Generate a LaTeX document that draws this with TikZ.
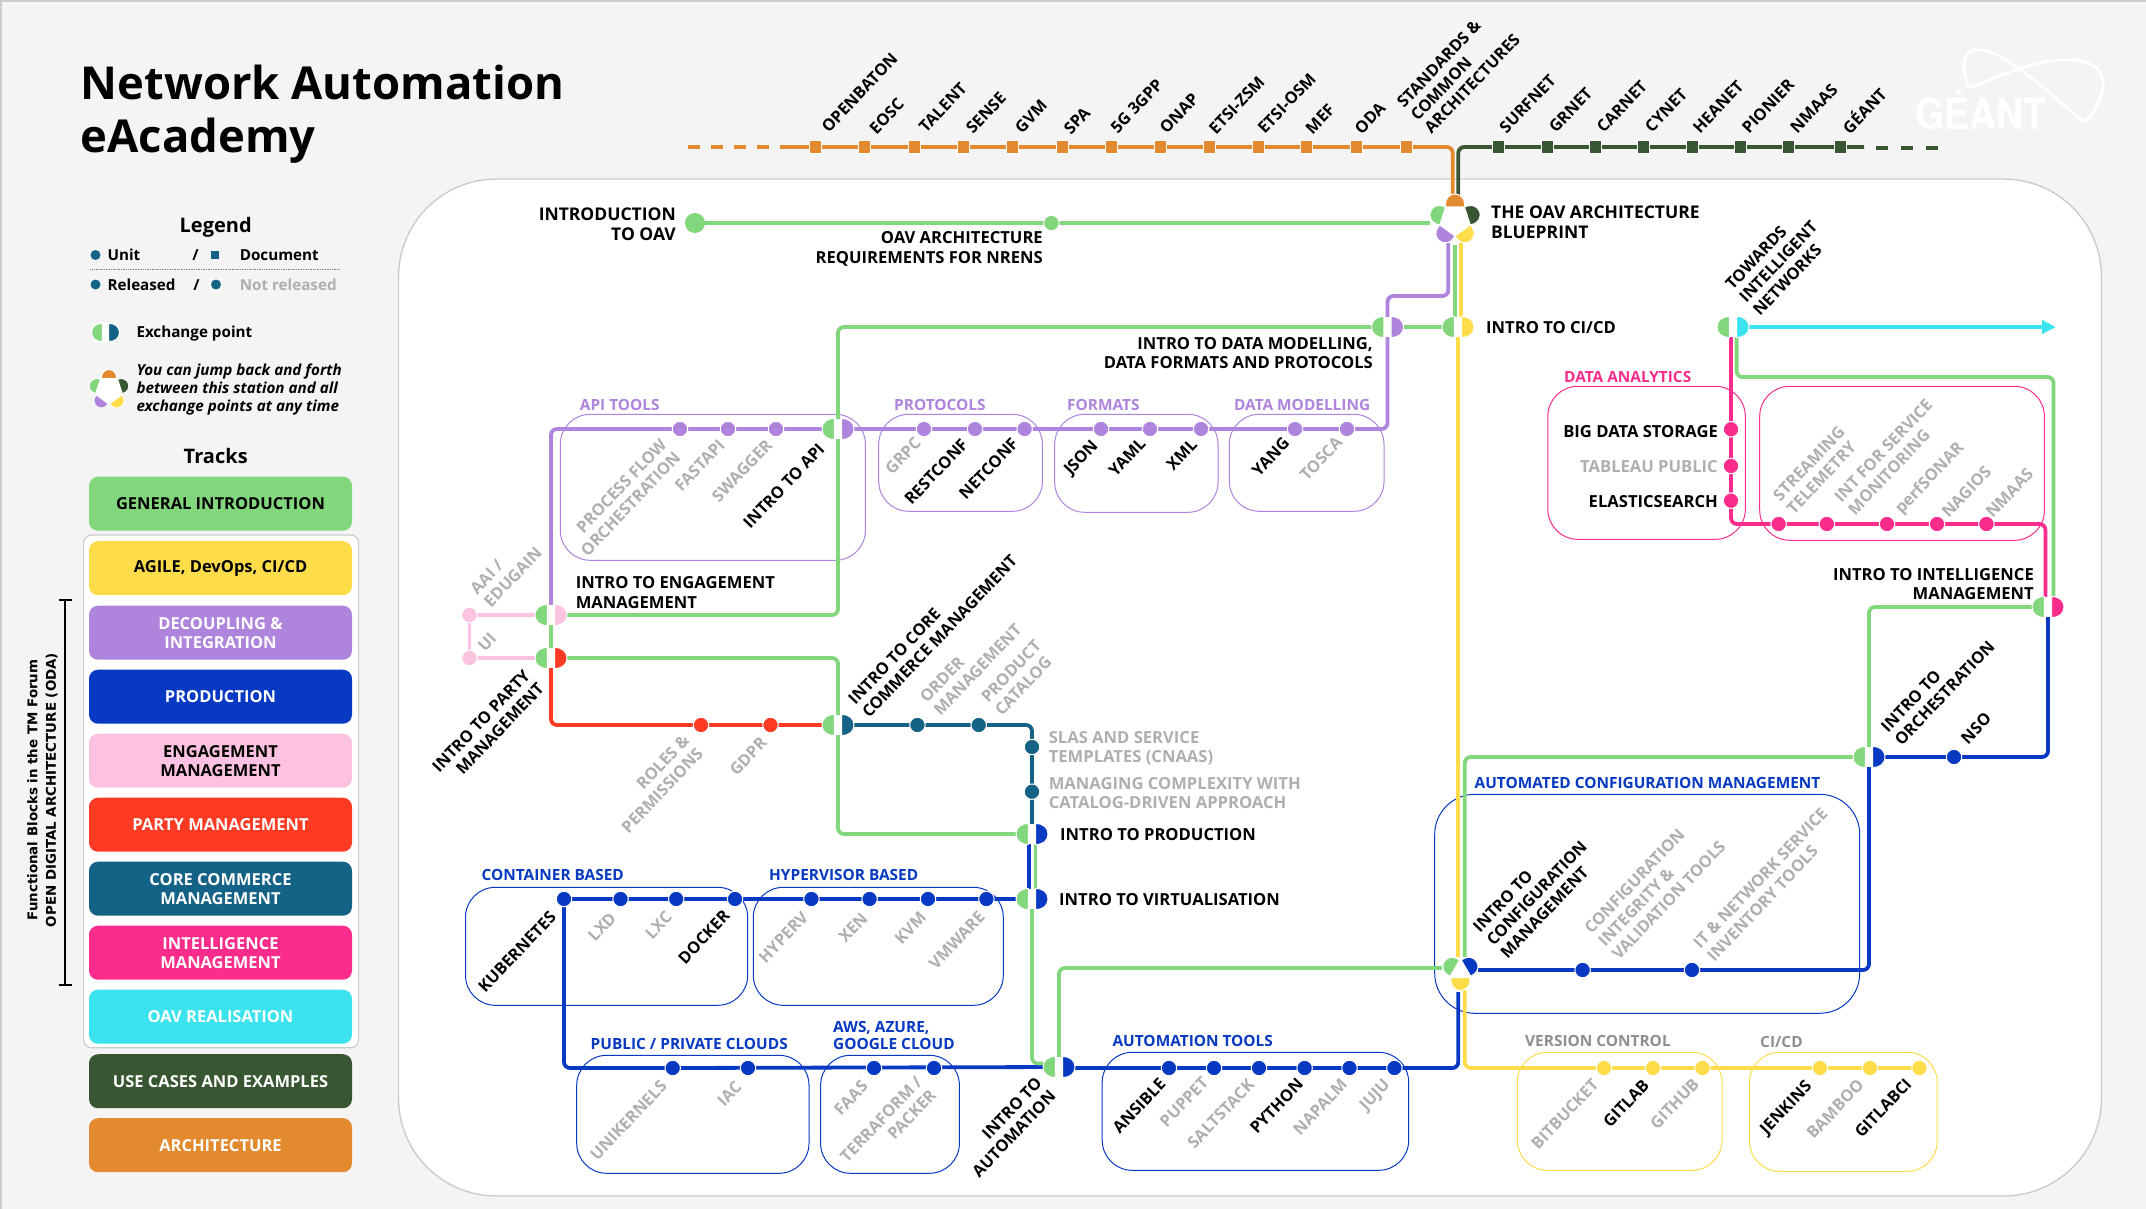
\documentclass[tikz,border=0pt]{standalone}
\usepackage{fontspec}
\setmainfont{Open Sans}
\newfontfamily\djfont{DejaVu Sans}
\newfontfamily\logofont{TeX Gyre Heros}
\usetikzlibrary{arrows.meta,shapes.geometric}
\definecolor{cgreen}{HTML}{82D67C}
\definecolor{cyellow}{HTML}{FFDD4A}
\definecolor{cpurple}{HTML}{AF84DD}
\definecolor{cblue}{HTML}{0739C2}
\definecolor{cpink}{HTML}{FCC2E0}
\definecolor{cred}{HTML}{FD3A23}
\definecolor{cteal}{HTML}{156287}
\definecolor{cmag}{HTML}{FB2C8B}
\definecolor{ccyan}{HTML}{3AE3EE}
\definecolor{cdark}{HTML}{395632}
\definecolor{corange}{HTML}{E38A2F}
\definecolor{cgrey}{HTML}{B0AEAE}
\definecolor{cgrey2}{HTML}{8F8F8F}
\definecolor{cpage}{HTML}{F4F4F4}
\newcommand{\labfont}{\fontsize{16.3}{19}\selectfont\bfseries}
\newcommand{\hzfont}{\fontsize{16.6}{19.4}\selectfont\bfseries}
\newcommand{\hzbfont}{\fontsize{17.5}{20}\selectfont\bfseries}
\newcommand{\grpfont}{\fontsize{15.4}{17.5}\selectfont\bfseries}
\newcommand{\tbfont}{\fontsize{16.5}{19}\selectfont\bfseries}
\newcommand{\legfont}{\fontsize{15.2}{17.6}\selectfont\bfseries}
\pgfdeclarelayer{bgl}\pgfdeclarelayer{tracks}
\pgfsetlayers{bgl,tracks,main}
\tikzset{
  lb/.style={inner sep=0pt,font=\labfont,text=black},
  gy/.style={lb,text=cgrey},
  hz/.style={lb,font=\hzfont,yshift=-1pt},
  hzb/.style={lb,font=\hzbfont,yshift=-1pt},
  gl/.style={lb,font=\grpfont,yshift=-.5pt},
  rot/.style={rotate=46.5},
  aw/.style={anchor=west,align=left},
  ae/.style={anchor=east,align=right},
  grp/.style={rounded corners=30pt,line width=1pt},
  track/.style={line width=3.8pt,rounded corners=6pt},
  stopdot/.style={circle,minimum size=15.5pt,inner sep=0pt,draw=white,line width=1pt},
  sqdot/.style={rectangle,minimum width=12pt,minimum height=13pt,inner sep=0pt,draw=white,line width=.8pt},
  xpbase/.style={ellipse,minimum width=30pt,minimum height=20pt,inner sep=0pt,fill=white},
  hubbase/.style={circle,fill=white,inner sep=0pt},
  tb/.style={rectangle,rounded corners=9pt,minimum width=263pt,minimum height=54pt,inner sep=0pt,align=center,font=\tbfont,yshift=-.7pt},
}
\newcommand{\Lb}[4]{\node[#1] (#2) at (#3) {#4};}
\newcommand{\St}[3]{\node[stopdot,fill=#3] (#1) at (#2) {};}
\newcommand{\Sq}[3]{\node[sqdot,fill=#3] (#1) at (#2) {};}
\newcommand{\Xp}[4][1]{\node[xpbase] (#2) at (#3) {};
  \begin{scope}[shift={(#2.center)},scale=#1]
  \path[fill=cgreen,draw=white,line width=1pt] (-3.7,-10.5) .. controls (-11,-10.5) and (-16,-6.5) .. (-16,0) .. controls (-16,6.5) and (-11,10.5) .. (-3.7,10.5) -- cycle;
  \path[fill=#4,draw=white,line width=1pt] (3.7,-10.5) .. controls (11,-10.5) and (16,-6.5) .. (16,0) .. controls (16,6.5) and (11,10.5) .. (3.7,10.5) -- cycle;
  \end{scope}}
\newcommand{\Hp}[6]{% centre, angle, flat distance, half width, height, colour
  \begin{scope}[shift={(#1.center)},rotate=#2]
  \path[fill=#6,draw=white,line width=1pt] (-#4,-#3) -- (-#4,-#3-#5+#4) .. controls (-#4,-#3-#5+#4*.45) and (-#4*.55,-#3-#5) .. (0,-#3-#5) .. controls (#4*.55,-#3-#5) and (#4,-#3-#5+#4*.45) .. (#4,-#3-#5+#4) -- (#4,-#3) -- cycle;
  \end{scope}}
\newcommand{\Tb}[5]{\node[tb,fill=#3,text=#4] (#1) at (220.5,#2) {#5};}
\begin{document}
\begin{tikzpicture}[x=1pt,y=-1pt]
\useasboundingbox (0,0) rectangle (2146,1209);
\begin{pgfonlayer}{bgl}
\fill[cpage] (0,0) rectangle (2146,1209);
\draw[gray!40,line width=1.5pt] (1,1209) -- (1,1) -- (2146,1);
\path[fill=white,draw=black!20,line width=1.4pt,rounded corners=98pt] (398.5,179) rectangle (2101.5,1196);
% group frame in legend
\path[fill=white,draw=black!20,line width=1.2pt,rounded corners=8pt] (83.6,535) rectangle (358.6,1047.8);
% group boxes
\draw[grp,cpurple] (560.3,414.3) rectangle (865.4,560.3);
\draw[grp,cpurple] (878.7,414.3) rectangle (1042.4,511.3);
\draw[grp,cpurple] (1054.7,414.3) rectangle (1218,512.3);
\draw[grp,cpurple] (1229.3,414.3) rectangle (1384,511.3);
\draw[grp,cmag] (1547.8,386.3) rectangle (1745.3,539.3);
\draw[grp,cmag] (1759.7,386.3) rectangle (2044.4,540.3);
\draw[grp,cblue] (465.5,887.3) rectangle (747.7,1005.3);
\draw[grp,cblue] (753.3,887.3) rectangle (1003.3,1005.3);
\draw[grp,cblue] (576.7,1055.3) rectangle (809,1173.3);
\draw[grp,cblue] (820.6,1055.3) rectangle (959.4,1173.3);
\draw[grp,cblue] (1102.2,1052.3) rectangle (1408.7,1170.3);
\draw[grp,cblue,rounded corners=40pt] (1434.7,794.3) rectangle (1859.7,1013.3);
\draw[grp,cyellow] (1517.3,1052.3) rectangle (1722,1170.3);
\draw[grp,cyellow] (1749.5,1052.3) rectangle (1937.2,1171.3);
\end{pgfonlayer}

% Title
\node[inner sep=0pt,anchor=base west,font=\fontsize{45.4}{53}\selectfont\bfseries] (title1) at (80.5,99.5) {Network Automation};
\node[inner sep=0pt,anchor=base west,font=\fontsize{45.4}{53}\selectfont\bfseries] (title2) at (80.5,152.5) {eAcademy};

% Legend
\node[inner sep=0pt,font=\fontsize{20}{24}\selectfont\bfseries] (legendT) at (215.7,227) {Legend};
\node[inner sep=0pt,font=\fontsize{20}{24}\selectfont\bfseries] (tracksT) at (215.7,455.5) {Tracks};
\node[circle,fill=cteal,minimum size=10pt,inner sep=0pt] (lgUnit) at (95.5,255) {};
\node[inner sep=0pt,anchor=west,font=\legfont] (lgUnitT) at (107.4,255) {Unit};
\node[inner sep=0pt,font=\legfont] (lgS1) at (195.5,255) {/};
\node[rectangle,fill=cteal,minimum size=8.5pt,inner sep=0pt] (lgDoc) at (215,255) {};
\node[inner sep=0pt,anchor=west,font=\legfont] (lgDocT) at (239.6,255) {Document};
\coordinate (lgDa) at (90.4,269); \coordinate (lgDb) at (339.7,269);
\draw[black!50,line width=.7pt,densely dotted] (lgDa) -- (lgDb);
\node[circle,fill=cteal,minimum size=10pt,inner sep=0pt] (lgRel) at (95.5,284.5) {};
\node[inner sep=0pt,anchor=west,font=\legfont] (lgRelT) at (107.4,285) {Released};
\node[inner sep=0pt,font=\legfont] (lgS2) at (196.5,285) {/};
\node[circle,fill=cteal,minimum size=10pt,inner sep=0pt] (lgNot) at (216,284.5) {};
\node[inner sep=0pt,anchor=west,font=\legfont,text=cgrey] (lgNotT) at (239.6,285) {Not released};
\Xp[.87]{lgXp}{105.5,332.5}{cteal}
\node[inner sep=0pt,anchor=west,font=\legfont] (lgXpT) at (136.3,334) {Exchange point};
\node[hubbase,minimum size=24pt] (lgHub) at (109,390) {};
\Hp{lgHub}{0}{11.5}{7.5}{9}{corange}
\Hp{lgHub}{72}{11.5}{7.5}{9}{cgreen}
\Hp{lgHub}{144}{11.5}{7.5}{9}{cpurple}
\Hp{lgHub}{-144}{11.5}{7.5}{9}{cyellow}
\Hp{lgHub}{-72}{11.5}{7.5}{9}{cdark}
\node[inner sep=0pt,anchor=west,align=left,font=\legfont\itshape] (lgHubT) at (136.3,389.5) {You can jump back and forth\\between this station and all\\exchange points at any time};

% Tracks legend
\Tb{tGen}{503}{cgreen}{black}{GENERAL INTRODUCTION}
\Tb{tAgi}{567.5}{cyellow}{black}{AGILE, DevOps, CI/CD}
\Tb{tDec}{632}{cpurple}{white}{DECOUPLING \&\\INTEGRATION}
\Tb{tPro}{696}{cblue}{white}{PRODUCTION}
\Tb{tEng}{760}{cpink}{black}{ENGAGEMENT\\MANAGEMENT}
\Tb{tPar}{824}{cred}{white}{PARTY MANAGEMENT}
\Tb{tCor}{888}{cteal}{white}{CORE COMMERCE\\MANAGEMENT}
\Tb{tInt}{952}{cmag}{white}{INTELLIGENCE\\MANAGEMENT}
\Tb{tOav}{1016}{ccyan}{white}{OAV REALISATION}
\Tb{tUse}{1080.5}{cdark}{white}{USE CASES AND EXAMPLES}
\Tb{tArc}{1144.5}{corange}{white}{ARCHITECTURE}

% Bracket
\coordinate (brA) at (65,600); \coordinate (brB) at (65,984.5);
\draw[black,line width=2pt] (brA) -- (brB);
\draw[black,line width=2pt] ([xshift=-6.5pt]brA) -- ([xshift=6.5pt]brA);
\draw[black,line width=2pt] ([xshift=-6.5pt]brB) -- ([xshift=6.5pt]brB);
\node[inner sep=0pt,rotate=90,align=center,font=\djfont\fontsize{13.4}{18.5}\selectfont\bfseries] (brT) at (42.5,790) {Functional Blocks in the TM Forum\\OPEN DIGITAL ARCHITECTURE (ODA)};

% Logo
\node[inner sep=0pt,text=white,anchor=base west,font=\logofont\fontsize{43}{45}\selectfont\bfseries] (logoT) at (1915,129.3) {\scalebox{.87}[1]{GÉANT}};
\coordinate (lgoA) at (1969,88);
\draw[white,line width=2.6pt,line join=round] (lgoA) .. controls (1962,70) and (1960,50) .. (1978,49.5) .. controls (1995,49) and (2025,72) .. (2050,93) .. controls (2062,104) and (2075,115) .. (2083,121) .. controls (2090,122) and (2104,95) .. (2103,83) .. controls (2102,62) and (2080,59) .. (2060,60) .. controls (2030,62) and (2000,76) .. (lgoA);

% Hubs and exchange points
\node[hubbase,minimum size=26pt] (hubOav) at (1455,220) {};
\Hp{hubOav}{0}{13}{9.5}{13}{corange}
\Hp{hubOav}{72}{13}{9.5}{13}{cgreen}
\Hp{hubOav}{144}{13}{9.5}{13}{cpurple}
\Hp{hubOav}{-144}{13}{9.5}{13}{cyellow}
\Hp{hubOav}{-72}{13}{9.5}{13}{cdark}
\node[hubbase,minimum size=14pt] (hubCfg) at (1460.4,971.3) {};
\Hp{hubCfg}{60}{6.4}{9.3}{12.5}{cgreen}
\Hp{hubCfg}{-60}{6.4}{9.3}{12.5}{cblue}
\Hp{hubCfg}{180}{6.4}{9.5}{12.8}{cyellow}
\Xp{xpData}{1387.5,327}{cpurple}
\Xp{xpCi}{1458,327}{cyellow}
\Xp{xpApi}{838,429}{cpurple}
\Xp{xpEng}{551,615}{cpink}
\Xp{xpPar}{551,658}{cred}
\Xp{xpCor}{838,725}{cteal}
\Xp{xpPrd}{1032,834}{cblue}
\Xp{xpVir}{1032,899}{cblue}
\Xp{xpAut}{1059,1067}{cblue}
\Xp{xpOrc}{1869,757}{cblue}
\Xp{xpInt}{2048,607}{cmag}
\Xp{xpTow}{1733,327}{ccyan}

% Start stop
\node[circle,fill=cgreen,minimum size=20pt,inner sep=0pt] (nIntro) at (695,223) {};
\St{nReq}{1051.4,223}{cgreen}

% Orange squares
\Sq{os1}{815,147}{corange}\Sq{os2}{864,147}{corange}\Sq{os3}{914,147}{corange}\Sq{os4}{963,147}{corange}
\Sq{os5}{1012,147}{corange}\Sq{os6}{1062,147}{corange}\Sq{os7}{1111,147}{corange}\Sq{os8}{1160,147}{corange}
\Sq{os9}{1209,147}{corange}\Sq{os10}{1258,147}{corange}\Sq{os11}{1306.5,147}{corange}\Sq{os12}{1356,147}{corange}\Sq{os13}{1406,147}{corange}
% Dark squares
\Sq{ds1}{1498,147}{cdark}\Sq{ds2}{1547.6,147}{cdark}\Sq{ds3}{1595,147}{cdark}\Sq{ds4}{1643,147}{cdark}
\Sq{ds5}{1692,147}{cdark}\Sq{ds6}{1740.5,147}{cdark}\Sq{ds7}{1788,147}{cdark}\Sq{ds8}{1840,147}{cdark}

% Purple stops
\St{pa1}{680,429}{cpurple}\St{pa2}{728,429}{cpurple}\St{pa3}{776,429}{cpurple}
\St{pp1}{924,429}{cpurple}\St{pp2}{975,429}{cpurple}\St{pp3}{1024.6,429}{cpurple}
\St{pf1}{1101,429}{cpurple}\St{pf2}{1150,429}{cpurple}\St{pf3}{1201,429}{cpurple}
\St{pm1}{1295,429}{cpurple}\St{pm2}{1347,429}{cpurple}
% UI stops
\St{ui1}{469.5,615}{cpink}\St{ui2}{469.5,658}{cpink}
% Red stops
\St{rd1}{701,725}{cred}\St{rd2}{770.5,725}{cred}
% Teal stops
\St{te1}{917.4,725}{cteal}\St{te2}{978.7,725}{cteal}\St{te3}{1032,747}{cteal}\St{te4}{1032,791.7}{cteal}
% Blue stops
\St{bv1}{564,899}{cblue}\St{bv2}{620.6,899}{cblue}\St{bv3}{676.2,899}{cblue}\St{bv4}{735,899}{cblue}
\St{bv5}{811.4,899}{cblue}\St{bv6}{869.6,899}{cblue}\St{bv7}{928,899}{cblue}\St{bv8}{986.4,899}{cblue}
\St{bc1}{672.7,1068}{cblue}\St{bc2}{748,1068}{cblue}\St{bc3}{874,1068}{cblue}\St{bc4}{934,1068}{cblue}
\St{ba1}{1169,1068}{cblue}\St{ba2}{1214,1068}{cblue}\St{ba3}{1259,1068}{cblue}\St{ba4}{1304.6,1068}{cblue}\St{ba5}{1349.5,1068}{cblue}\St{ba6}{1394.4,1068}{cblue}
\St{bg1}{1582.6,970}{cblue}\St{bg2}{1692,970}{cblue}
\St{bo1}{1954,757}{cblue}
% Yellow stops
\St{yv1}{1604,1068}{cyellow}\St{yv2}{1653,1068}{cyellow}\St{yv3}{1702.5,1068}{cyellow}
\St{yc1}{1820,1068}{cyellow}\St{yc2}{1870,1068}{cyellow}\St{yc3}{1919.4,1068}{cyellow}
% Magenta stops
\St{md1}{1731,429.3}{cmag}\St{md2}{1731,466}{cmag}\St{md3}{1731,500.7}{cmag}
\St{mi1}{1778.6,524}{cmag}\St{mi2}{1826.8,524}{cmag}\St{mi3}{1887,524}{cmag}\St{mi4}{1937,524}{cmag}\St{mi5}{1986.4,524}{cmag}

% Free ends of connectors
\coordinate (oDash) at (688,147); \coordinate (oSolid) at (781,147);
\coordinate (hOr) at (1452.7,195); \coordinate (hDk) at (1458.3,195);
\coordinate (dEnd) at (1864,147); \coordinate (dDa) at (1876,148); \coordinate (dDb) at (1938,148);
\coordinate (hGl) at (1430,223); \coordinate (hPu) at (1448.3,243); \coordinate (hGd) at (1455.3,245); \coordinate (hYe) at (1461.3,243);
\coordinate (ciYe) at (1458.3,337); \coordinate (ciGe) at (1461.3,320);
\coordinate (cfYt) at (1458.3,957); \coordinate (cfGt) at (1464.8,957); \coordinate (cfGl) at (1442,968);
\coordinate (cfBb) at (1458.3,992); \coordinate (cfYb) at (1464.8,990); \coordinate (cfBr) at (1478,970);
\coordinate (twM) at (1731,337); \coordinate (twG) at (1736.6,337);
\coordinate (inM) at (2045.5,597); \coordinate (inG) at (2053.5,597);
\coordinate (arrEnd) at (2056,327);
\coordinate (prB1) at (1029,843); \coordinate (prB2) at (1029,890); \coordinate (prG1) at (1035.4,843); \coordinate (prG2) at (1035.4,890);
\coordinate (auG) at (1032,1063.5);

\begin{pgfonlayer}{tracks}
\draw[track,corange,dash pattern=on 12pt off 11pt] (oDash) -- (oSolid);
\draw[track,corange] (oSolid) -- (os1.center) -- (os13.center) -- (hOr |- os13) -- (hOr);
\draw[track,cdark] (hDk) -- (hDk |- ds1) -- (ds1.center) -- (ds8.center) -- (dEnd);
\draw[track,cdark,dash pattern=on 12pt off 13pt] (dDa) -- (dDb);
\draw[track,cgreen] (nIntro.center) -- (nReq.center) -- (hGl);
\draw[track,cgreen] (xpEng.center) -- (xpEng.center -| xpApi) -- (xpApi.center) -- (xpApi.center |- xpData) -- (xpData.center) -- (xpCi.center);
\draw[track,cgreen] (hGd) -- (hGd |- xpCi);
\draw[track,cyellow] (hYe) -- (ciGe);
\draw[track,cyellow] (ciYe) -- (cfYt);
\draw[track,cpurple] (xpEng.center) -- (xpEng.center |- xpApi) -- (pa1.center) -- (xpApi.center) -- (pp1.center) -- (pm2.center) -- (xpData.center |- pm2) -- (xpData.center) -- (1387.5,296) -- (hPu |- 0,296) -- (hPu);
\draw[track,cgreen] (xpEng.center) -- (xpPar.center);
\draw[track,cpink,rounded corners=0pt] (xpEng.center) -- (ui1.center) -- (ui2.center) -- (xpPar.center);
\draw[track,cgreen] (xpPar.center) -- (xpPar.center -| xpCor) -- (xpCor.center) -- (xpCor.center |- xpPrd) -- (xpPrd.center);
\draw[track,cred] (xpPar.center) -- (xpPar.center |- xpCor) -- (rd1.center) -- (xpCor.center);
\draw[track,cteal] (xpCor.center) -- (xpCor.center -| xpPrd) -- (te3.center) -- (te4.center) -- (xpPrd.center);
\draw[track,cblue] (prB1) -- (prB2);
\draw[track,cgreen] (prG1) -- (prG2);
\draw[track,cblue] (xpVir.center) -- (bv8.center) -- (bv1.center) -- (bv1.center |- bc1) -- (bc1.center) -- (xpAut.center);
\draw[track,cgreen] (xpVir.center) -- (auG) -- (auG -| xpAut) -- (xpAut.center);
\draw[track,cgreen] (xpAut.center) -- (xpAut.center |- cfGl) -- (cfGl);
\draw[track,cblue] (xpAut.center |- ba1) -- (ba1.center) -- (ba6.center) -- (cfBb |- ba6) -- (cfBb);
\draw[track,cyellow] (cfYb) -- (cfYb |- yv1) -- (yv1.center) -- (yc3.center);
\draw[track,cgreen] (cfGt) -- (cfGt |- xpOrc) -- (xpOrc.center);
\draw[track,cblue] (cfBr) -- (bg1.center) -- (bg2.center) -- (xpOrc.center |- bg2) -- (xpOrc.center);
\draw[track,cblue] (xpOrc.center) -- (bo1.center) -- (bo1.center -| xpInt) -- (xpInt.center);
\draw[track,cgreen] (xpInt.center) -- (xpInt.center -| xpOrc) -- (xpOrc.center);
\draw[track,cgreen] (inG) -- (2053.5,377) -- (1736.6,377) -- (twG);
\draw[track,cmag] (twM) -- (md1.center) -- (md3.center) -- (1731,524) -- (mi1.center) -- (mi5.center) -- (2045.5,524) -- (inM);
\draw[track,ccyan,-{Triangle[length=14pt,width=13pt]},rounded corners=0pt] (xpTow.center) -- (arrEnd);
\end{pgfonlayer}

% Horizontal labels
\Lb{hzb,ae}{lIntro}{676,223}{INTRODUCTION\\TO OAV}
\Lb{hz,ae}{lReq}{1043,248}{OAV ARCHITECTURE\\REQUIREMENTS FOR NRENS}
\Lb{hzb,aw}{lBlue}{1491,221}{THE OAV ARCHITECTURE\\BLUEPRINT}
\Lb{hz,aw}{lCi}{1486,327}{INTRO TO CI/CD}
\Lb{hz,ae}{lData}{1373,352}{INTRO TO DATA MODELLING,\\DATA FORMATS AND PROTOCOLS}
\Lb{hz,aw}{lEng}{575.6,591.5}{INTRO TO ENGAGEMENT\\MANAGEMENT}
\Lb{hz,aw,text=cgrey}{lSla}{1048.6,747}{SLAS AND SERVICE\\TEMPLATES (CNAAS)}
\Lb{hz,aw,text=cgrey}{lMan}{1048.6,792}{MANAGING COMPLEXITY WITH\\CATALOG-DRIVEN APPROACH}
\Lb{hz,aw}{lPrd}{1060,834}{INTRO TO PRODUCTION}
\Lb{hz,aw}{lVir}{1059,899}{INTRO TO VIRTUALISATION}
\Lb{hz,ae}{lInt}{2034,583}{INTRO TO INTELLIGENCE\\MANAGEMENT}
\Lb{hz,ae}{lBig}{1718,431}{BIG DATA STORAGE}
\Lb{hz,ae,text=cgrey}{lTab}{1718,466}{TABLEAU PUBLIC}
\Lb{hz,ae}{lEla}{1718,501}{ELASTICSEARCH}
% Group labels
\Lb{gl,aw,text=cpurple}{gApi}{579.7,404.3}{API TOOLS}
\Lb{gl,aw,text=cpurple}{gPro}{894,404.3}{PROTOCOLS}
\Lb{gl,aw,text=cpurple}{gFor}{1067,404.3}{FORMATS}
\Lb{gl,aw,text=cpurple}{gMod}{1233.9,404.3}{DATA MODELLING}
\Lb{gl,aw,text=cmag}{gAna}{1564,376.7}{DATA ANALYTICS}
\Lb{gl,aw,text=cblue}{gCon}{481.3,874.7}{CONTAINER BASED}
\Lb{gl,aw,text=cblue}{gHyp}{769,874.7}{HYPERVISOR BASED}
\Lb{gl,aw,text=cblue}{gPub}{590.5,1043.7}{PUBLIC / PRIVATE CLOUDS}
\Lb{gl,aw,text=cblue}{gAws}{832.9,1035}{AWS, AZURE,\\GOOGLE CLOUD}
\Lb{gl,aw,text=cblue}{gAut}{1112.4,1040.7}{AUTOMATION TOOLS}
\Lb{gl,aw,text=cblue}{gCfg}{1474.5,782.7}{AUTOMATED CONFIGURATION MANAGEMENT}
\Lb{gl,aw,text=cgrey2}{gVer}{1525,1040}{VERSION CONTROL}
\Lb{gl,aw,text=cgrey2}{gCic}{1760,1041.7}{CI/CD}

% Rotated labels, top
\Lb{lb,rot}{t1}{859.6,92.7}{OPENBATON}
\Lb{lb,rot}{t2}{886.6,116}{EOSC}
\Lb{lb,rot}{t3}{942.8,107.3}{TALENT}
\Lb{lb,rot}{t4}{986,113}{SENSE}
\Lb{lb,rot}{t5}{1031,116.3}{GVM}
\Lb{lb,rot}{t6}{1077,120.7}{SPA}
\Lb{lb,rot}{t7}{1136.6,106}{5G 3GPP}
\Lb{lb,rot}{t8}{1179,113.3}{ONAP}
\Lb{lb,rot}{t9}{1236.6,105}{ETSI-ZSM}
\Lb{lb,rot}{t10}{1286.6,103.3}{ETSI-OSM}
\Lb{lb,rot}{t11}{1320,119}{MEF}
\Lb{lb,rot}{t12}{1370,118.3}{ODA}
\Lb{lb,rot,aw}{t13}{1413.5,118}{STANDARDS \&\\COMMON\\ARCHITECTURES}
\Lb{lb,rot}{u1}{1527.5,104}{SURFNET}
\Lb{lb,rot}{u2}{1570.5,110}{GRNET}
\Lb{lb,rot}{u3}{1621.8,106.7}{CARNET}
\Lb{lb,rot}{u4}{1666,110.3}{CYNET}
\Lb{lb,rot}{u5}{1718,106.7}{HEANET}
\Lb{lb,rot}{u6}{1768,106}{PIONIER}
\Lb{lb,rot}{u7}{1813.8,108.7}{NMAAS}
\Lb{lb,rot}{u8}{1863.6,110}{GÉANT}
\Lb{lb,rot,aw}{lTow}{1742,300}{TOWARDS\\INTELLIGENT\\NETWORKS}
% Rotated, API row
\Lb{gy,rot,ae}{a1}{670.5,448}{PROCESS FLOW\\ORCHESTRATION}
\Lb{gy,rot}{a2}{699.6,465.4}{FASTAPI}
\Lb{gy,rot}{a3}{742,470.7}{SWAGGER}
\Lb{lb,rot}{a4}{783.8,485.8}{INTRO TO API}
\Lb{gy,rot}{a5}{903,455.7}{GRPC}
\Lb{lb,rot}{a6}{936,471.7}{RESTCONF}
\Lb{lb,rot}{a7}{988.4,468.7}{NETCONF}
\Lb{lb,rot}{a8}{1081.7,458.3}{JSON}
\Lb{lb,rot}{a9}{1127,457}{YAML}
\Lb{lb,rot}{a10}{1181.7,455}{XML}
\Lb{lb,rot}{a11}{1270.6,456.7}{YANG}
\Lb{gy,rot}{a12}{1321,458.7}{TOSCA}
% Engagement, party, core
\Lb{gy,rot,aw}{e1}{480,598}{AAI /\\EDUGAIN}
\Lb{gy,rot}{e2}{487,642.3}{UI}
\Lb{lb,rot,ae}{e3}{534,679}{INTRO TO PARTY\\MANAGEMENT}
\Lb{gy,rot,ae}{e4}{693,744}{ROLES \&\\PERMISSIONS}
\Lb{gy,rot}{e5}{748,756.3}{GDPR}
\Lb{lb,rot,aw}{e6}{858,708.5}{INTRO TO CORE\\COMMERCE MANAGEMENT}
\Lb{gy,rot,aw}{e7}{929.6,706.5}{ORDER\\MANAGEMENT}
\Lb{gy,rot,aw}{e8}{990.8,706.3}{PRODUCT\\CATALOG}
% Virtualisation
\Lb{lb,rot}{v1}{517,952}{KUBERNETES}
\Lb{gy,rot}{v2}{602,927}{LXD}
\Lb{gy,rot}{v3}{658.4,925.3}{LXC}
\Lb{lb,rot}{v4}{703.8,937}{DOCKER}
\Lb{gy,rot}{v5}{783.4,937.3}{HYPERV}
\Lb{gy,rot}{v6}{853,927.7}{XEN}
\Lb{gy,rot}{v7}{910.4,927.7}{KVM}
\Lb{gy,rot}{v8}{956.8,940}{VMWARE}
% Clouds
\Lb{gy,rot}{c1}{628.3,1120.3}{UNIKERNELS}
\Lb{gy,rot}{c2}{729.3,1094}{IAC}
\Lb{gy,rot}{c3}{850.7,1098}{FAAS}
\Lb{gy,rot,ae}{c4}{926,1085.7}{TERRAFORM /\\PACKER}
\Lb{lb,rot,ae}{c5}{1045.7,1086.5}{INTRO TO\\AUTOMATION}
% Automation tools
\Lb{lb,rot}{b1}{1139,1106}{ANSIBLE}
\Lb{gy,rot}{b2}{1184,1102}{PUPPET}
\Lb{gy,rot}{b3}{1220.7,1113.7}{SALTSTACK}
\Lb{lb,rot}{b4}{1276.5,1106}{PYTHON}
\Lb{gy,rot}{b5}{1320,1106.7}{NAPALM}
\Lb{gy,rot}{b6}{1375.5,1095.7}{JUJU}
% Yellow
\Lb{gy,rot}{y1}{1564.8,1114}{BITBUCKET}
\Lb{lb,rot}{y2}{1626,1103.3}{GITLAB}
\Lb{gy,rot}{y3}{1674.5,1103.7}{GITHUB}
\Lb{lb,rot}{y4}{1786.7,1108.3}{JENKINS}
\Lb{gy,rot}{y5}{1835,1109}{BAMBOO}
\Lb{lb,rot}{y6}{1883,1108}{GITLABCI}
% Config
\Lb{lb,rot,aw}{f1}{1489.5,942.7}{INTRO TO\\CONFIGURATION\\MANAGEMENT}
\Lb{gy,rot,aw}{f2}{1601,944}{CONFIGURATION\\INTEGRITY \&\\VALIDATION TOOLS}
\Lb{gy,rot,aw}{f3}{1703,952.3}{IT \& NETWORK SERVICE\\INVENTORY TOOLS}
% Intelligence
\Lb{gy,rot,aw}{i1}{1782.7,504.7}{STREAMING\\TELEMETRY}
\Lb{gy,rot,aw}{i2}{1844,505.7}{INT FOR SERVICE\\MONITORING}
\Lb{gy,rot}{i3}{1930,479}{perfSONAR}
\Lb{gy,rot}{i4}{1966.3,491.7}{NAGIOS}
\Lb{gy,rot}{i5}{2009.3,493}{NMAAS}
\Lb{lb,rot,aw}{o1}{1890.7,736}{INTRO TO\\ORCHESTRATION}
\Lb{lb,rot}{o2}{1976,728.3}{NSO}
\end{tikzpicture}
\end{document}
